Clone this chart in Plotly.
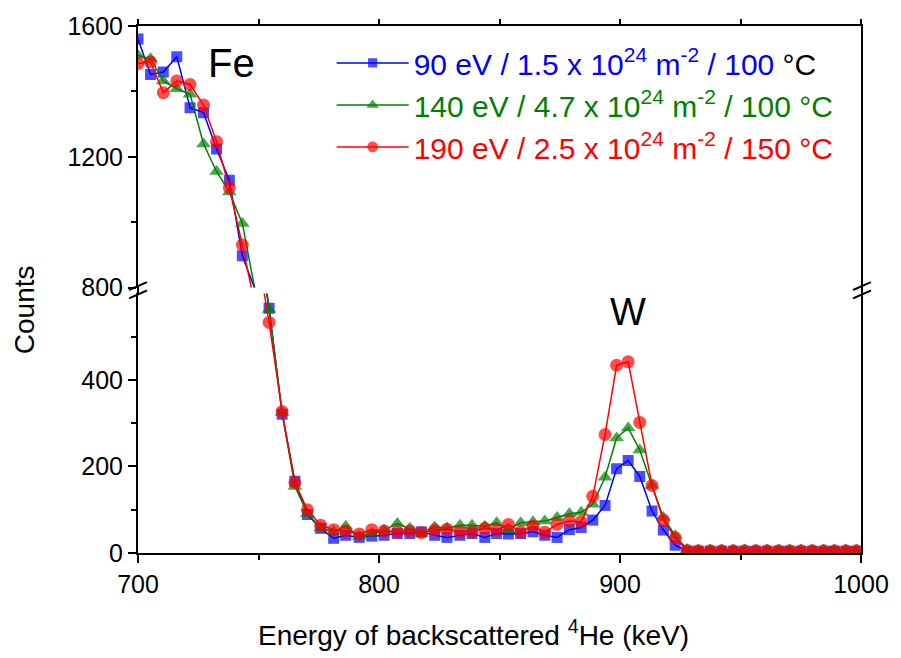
import plotly.graph_objects as go

# ---------------- data ----------------
energy_keV = [700.0, 705.2, 710.5, 716.1, 721.6, 727.2, 732.6, 737.9, 743.3, 748.8,
              754.4, 759.8, 765.1, 770.3, 775.8, 781.2, 786.2, 791.8, 797.0, 802.1,
              807.6, 812.8, 817.6, 823.1, 828.2, 833.6, 838.6, 843.9, 848.8, 853.7,
              858.8, 863.9, 868.8, 873.9, 879.0, 883.9, 888.7, 893.8, 898.6, 903.4,
              908.2, 913.3, 918.0, 922.9, 927.9, 932.5, 937.4, 942.2, 947.0, 951.7,
              956.3, 961.0, 965.8, 970.4, 975.1, 979.8, 984.5, 989.0, 993.7, 998.1]

counts_90eV = [1560, 1452, 1459, 1506, 1350, 1335, 1224, 1128, 897, 790,
               566, 321, 166, 89, 57, 34, 41, 36, 39, 41,
               45, 45, 49, 41, 36, 41, 45, 36, 45, 44,
               45, 49, 41, 36, 54, 59, 76, 110, 195, 214,
               177, 97, 53, 18, 4, 4, 4, 4, 4, 4,
               4, 4, 4, 4, 4, 4, 4, 4, 4, 4]

counts_140eV = [1510, 1500, 1432, 1408, 1391, 1239, 1155, 1092, 996, 760,
                563, 325, 154, 91, 58, 49, 62, 38, 45, 53,
                68, 57, 45, 60, 58, 64, 64, 62, 70, 54,
                70, 72, 74, 82, 91, 94, 113, 175, 266, 289,
                238, 156, 82, 40, 8, 7, 7, 7, 7, 7,
                7, 7, 7, 7, 7, 7, 7, 7, 7, 7]

counts_190eV = [1485, 1490, 1396, 1432, 1421, 1358, 1246, 1105, 930, 720,
                533, 327, 163, 100, 64, 54, 51, 44, 54, 51,
                49, 51, 47, 53, 55, 49, 49, 57, 53, 66,
                49, 62, 48, 66, 74, 72, 131, 274, 434, 442,
                302, 156, 76, 35, 6, 5, 5, 5, 5, 5,
                5, 5, 5, 5, 5, 5, 5, 5, 5, 5]

series_names = [
    "<span style='color:#0000FF'>90 eV / 1.5 x 10<sup>24</sup> m<sup>-2</sup> / 100 </span>°C",
    "<span style='color:#008000'>140 eV / 4.7 x 10<sup>24</sup> m<sup>-2</sup> / 100 °C</span>",
    "<span style='color:#FF0000'>190 eV / 2.5 x 10<sup>24</sup> m<sup>-2</sup> / 150 °C</span>",
]

x_ticks = [700, 800, 900, 1000]
y_low_ticks = [0, 200, 400]
y_high_ticks = [800, 1200, 1600]
LOW_RANGE = [0, 600]
HIGH_RANGE = [800, 1600]

# ---------------- styling ----------------
FONT = "Liberation Sans, Arial"
styles = [
    dict(color="#0000FF", symbol="square", size=11),
    dict(color="#008000", symbol="triangle-up", size=13),
    dict(color="#FF0000", symbol="circle", size=13),
]
all_counts = [counts_90eV, counts_140eV, counts_190eV]

fig = go.Figure()

for vals, st, name in zip(all_counts, styles, series_names):
    low_sizes = [st["size"] if v <= LOW_RANGE[1] else 0 for v in vals]
    high_sizes = [st["size"] if v >= HIGH_RANGE[0] else 0 for v in vals]
    fig.add_trace(go.Scatter(
        x=energy_keV, y=vals, xaxis="x", yaxis="y", mode="lines+markers",
        name=name, line=dict(color=st["color"], width=1.5),
        marker=dict(symbol=st["symbol"], size=low_sizes, color=st["color"],
                    line=dict(width=0)),
        showlegend=True))
    fig.add_trace(go.Scatter(
        x=energy_keV, y=vals, xaxis="x2", yaxis="y2", mode="lines+markers",
        name=name, line=dict(color=st["color"], width=1.5),
        marker=dict(symbol=st["symbol"], size=high_sizes, color=st["color"],
                    line=dict(width=0)),
        showlegend=False))

L, R, T, B = 138, 35, 23, 105
W, H = 901, 658
pw, ph = W - L - R, H - T - B
low_top_px = 292
high_bot_px = 286
low_dom = [0, (553 - low_top_px) / ph]
high_dom = [(553 - high_bot_px) / ph, 1]

axis_common = dict(showline=True, linecolor="black", linewidth=2, showgrid=False,
                   zeroline=False, ticks="outside", tickcolor="black", tickwidth=2,
                   tickfont=dict(family=FONT, size=25, color="black"))

fig.update_layout(
    width=W, height=H,
    margin=dict(l=L, r=R, t=T, b=B),
    paper_bgcolor="white", plot_bgcolor="white",
    font=dict(family=FONT, color="black"),
    xaxis=dict(domain=[0, 1], range=[700, 1000], anchor="y", tickvals=x_ticks,
               ticklen=8, minor=dict(dtick=50, ticklen=5, tickwidth=2, ticks="outside",
                                     tickcolor="black", showgrid=False),
               **axis_common),
    xaxis2=dict(domain=[0, 1], range=[700, 1000], anchor="y2", matches="x", side="top",
                showticklabels=False, dtick=50, ticklen=5,
                **{k: v for k, v in axis_common.items() if k != "tickfont"}),
    yaxis=dict(domain=low_dom, range=LOW_RANGE, anchor="x", tickvals=y_low_ticks,
               ticklen=8, mirror=True,
               minor=dict(tickvals=[100, 300, 500], ticklen=5, tickwidth=2,
                          ticks="outside", tickcolor="black", showgrid=False),
               **axis_common),
    yaxis2=dict(domain=high_dom, range=HIGH_RANGE, anchor="x2", tickvals=y_high_ticks,
                ticklen=8, mirror=True,
                minor=dict(tickvals=[1000, 1400], ticklen=5, tickwidth=2,
                           ticks="outside", tickcolor="black", showgrid=False),
                **axis_common),
    legend=dict(x=(333 - L) / pw, y=(553 - 34) / ph, xanchor="left", yanchor="top",
                bgcolor="rgba(0,0,0,0)", borderwidth=0, itemwidth=72,
                font=dict(family=FONT, size=30, color="black"), tracegroupgap=0),
)

def px2paper(px, py):
    return (px - L) / pw, (553 - py) / ph

ann = []
ax, ay = px2paper(24, 308)
ann.append(dict(text="Counts", x=ax, y=ay, textangle=-90, font=dict(size=28)))
ax, ay = px2paper(476, 633)
ann.append(dict(text="Energy of backscattered <sup>4</sup>He (keV)", x=ax, y=ay,
                font=dict(size=28)))
ax, ay = px2paper(232, 60)
ann.append(dict(text="Fe", x=ax, y=ay, font=dict(size=40)))
ax, ay = px2paper(631, 311)
ann.append(dict(text="W", x=ax, y=ay, font=dict(size=38)))
for a in ann:
    a.update(xref="paper", yref="paper", showarrow=False, xanchor="center",
             yanchor="middle")
    a["font"].update(family=FONT, color="black")
fig.update_layout(annotations=ann)

# axis break decorations
shapes = []
for xc in (138, 867):
    x0, y0 = px2paper(xc, 292)
    x1, y1 = px2paper(xc, 285)
    shapes.append(dict(type="line", xref="paper", yref="paper", x0=x0, y0=y0, x1=x1,
                       y1=y1, line=dict(color="black", width=2)))
    for yc in (284.5, 293):
        a0 = px2paper(xc - 9, yc + 4)
        a1 = px2paper(xc + 9, yc - 4)
        shapes.append(dict(type="line", xref="paper", yref="paper", x0=a0[0], y0=a0[1],
                           x1=a1[0], y1=a1[1], line=dict(color="black", width=2)))
fig.update_layout(shapes=shapes)

fig.write_html("out.html")
